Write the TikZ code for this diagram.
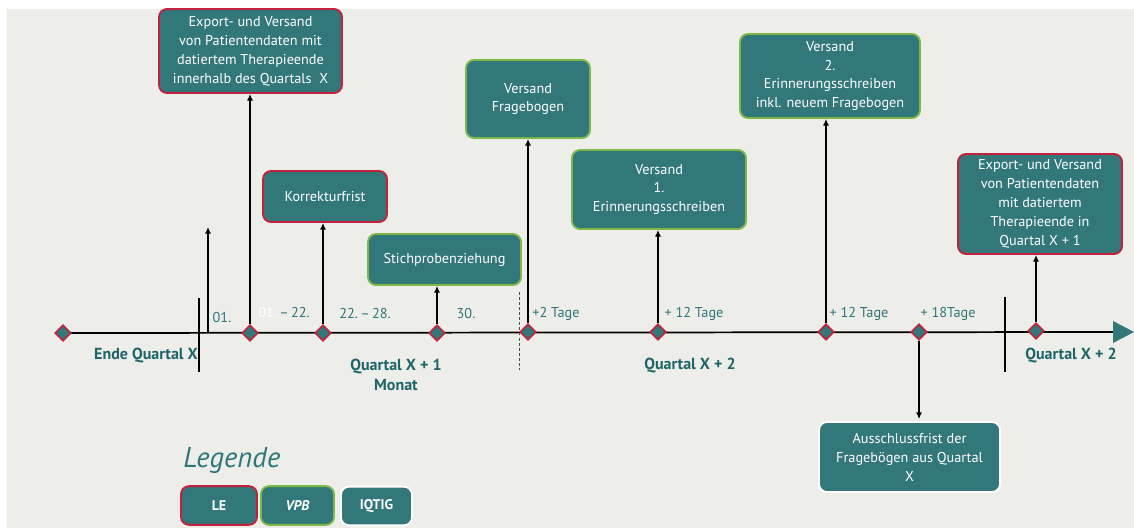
\documentclass[tikz,border=0pt]{standalone}
\usepackage{fontspec}
\setmainfont{PT Sans}
\usetikzlibrary{arrows.meta,shapes.geometric}
\definecolor{bgc}{HTML}{EDEDE9}
\definecolor{teal}{HTML}{32777A}
\definecolor{tealtext}{HTML}{2F7679}
\definecolor{tealdark}{HTML}{1E6568}
\definecolor{redb}{HTML}{C4213C}
\definecolor{greenb}{HTML}{7DB847}
\pgfdeclarelayer{lines}
\pgfsetlayers{lines,main}
\tikzset{
  box/.style={draw, line width=1.4pt, rounded corners=6pt, fill=teal, text=white,
    align=center, inner sep=0pt, font=\fontsize{10.7}{14.2}\selectfont},
  lebox/.style={box, draw=redb},
  vpbbox/.style={box, draw=greenb},
  iqbox/.style={box, draw=white},
  dia/.style={diamond, draw=redb, fill=teal, line width=1.2pt, inner sep=0pt, minimum size=12pt},
  arr/.style={-{Latex[length=5pt,width=4.6pt]}, line width=1pt, black},
  lbl/.style={text=tealtext, font=\fontsize{10.7}{12}\selectfont, inner sep=0pt},
  blbl/.style={text=tealdark, font=\fontsize{12}{15}\selectfont\bfseries, inner sep=0pt, align=center},
}
\begin{document}
\begin{tikzpicture}[x=0.75pt,y=-0.75pt]
\useasboundingbox (0,0) rectangle (1134,528);
\begin{pgfonlayer}{lines}
\fill[white] (0,0) rectangle (1134,528);
\fill[bgc] (7,9) rectangle (1134,528);
\end{pgfonlayer}

% diamonds on timeline
\node[dia] (d1) at (63,333) {};
\node[dia] (d2) at (250,333) {};
\node[dia] (d3) at (323,333) {};
\node[dia] (d4) at (437,333) {};
\node[dia] (d5) at (528,332) {};
\node[dia] (d6) at (658,332) {};
\node[dia] (d7) at (826,332) {};
\node[dia] (d8) at (919,332) {};
\node[dia] (d9) at (1036,331) {};
\coordinate (tipbase) at (1113,332);
\coordinate (c01) at (208,333);

\begin{pgfonlayer}{lines}
\draw[line width=1.3pt] (d1.center) -- (tipbase);
\end{pgfonlayer}
\fill[teal] (1113,321) -- (1134,332) -- (1113,343) -- cycle;

% separators
\draw[line width=1.3pt] (199,298) -- (199,372);
\draw[line width=1.3pt] (1005,297) -- (1005,372);
\draw[line width=0.7pt, dash pattern=on 2.2pt off 1.6pt, gray!60!black] (519,292) -- (519,370);

% boxes
\node[lebox, minimum width=137.25pt, minimum height=63pt] (b1) at (250.5,51) {Export- und Versand\\von Patientendaten mit\\datiertem Therapieende\\innerhalb des Quartals\ \ X};
\node[lebox, minimum width=93pt, minimum height=38.25pt] (b2) at (325,196.5) {Korrekturfrist};
\node[vpbbox, minimum width=114.75pt, minimum height=38.25pt] (b3) at (444.5,259.5) {Stichprobenziehung};
\node[vpbbox, minimum width=93pt, minimum height=58.5pt] (b4) at (528,99) {Versand\\Fragebogen};
\node[vpbbox, minimum width=130.5pt, minimum height=59.25pt] (b5) at (659,189.5) {Versand\\1.\\Erinnerungsschreiben};
\node[vpbbox, minimum width=135pt, minimum height=63pt] (b6) at (830,76) {Versand\\2.\\Erinnerungsschreiben\\inkl. neuem Fragebogen};
\node[lebox, minimum width=123pt, minimum height=75pt] (b7) at (1040,204) {Export- und Versand\\von Patientendaten\\mit datiertem\\Therapieende in\\Quartal X + 1};
\node[iqbox, minimum width=135.75pt, minimum height=52.5pt] (b8) at (909.5,457) {Ausschlussfrist der\\Fragebögen aus Quartal\\X};

% arrows
\draw[arr] (c01) -- ++(0,-106);
\draw[arr] (d2.north) -- (d2.north |- b1.south);
\draw[arr] (d3.north) -- (d3.north |- b2.south);
\draw[arr] (d4.north) -- (d4.north |- b3.south);
\draw[arr] (d5.north) -- (d5.north |- b4.south);
\draw[arr] (d6.north) -- (d6.north |- b5.south);
\draw[arr] (d7.north) -- (d7.north |- b6.south);
\draw[arr] (d9.north) -- (d9.north |- b7.south);
\draw[arr] (d8.south) -- ([yshift=1.5pt]d8.south |- b8.north);

% small labels
\node[lbl] (l1) at (222,318) {01.};
\node[lbl] (l2) at (284,313) {\textcolor{white}{01.}\,–\,22.};
\node[lbl] (l3) at (365,314) {22.\,–\,28.};
\node[lbl] (l4) at (466,314) {30.};
\node[lbl] (l5) at (556,314) {+2 Tage};
\node[lbl] (l6) at (694,314) {+ 12 Tage};
\node[lbl] (l7) at (859,314) {+ 12 Tage};
\node[lbl] (l8) at (948,314) {+ 18Tage};

% bold labels
\node[blbl] (q0) at (146,356) {Ende Quartal X};
\node[blbl] (q1) at (396,375) {Quartal X + 1\\Monat};
\node[blbl] (q2) at (690,366) {Quartal X + 2};
\node[blbl] (q3) at (1071,356) {Quartal X + 2};

% legend
\node[text=tealtext, font=\fontsize{21.5}{24}\selectfont\itshape, anchor=west, inner sep=0pt] (leg) at (183,460) {Legende};
\node[lebox, minimum width=57pt, minimum height=29pt, font=\fontsize{10.5}{12}\selectfont\bfseries] (kle) at (219,505.5) {LE};
\node[vpbbox, minimum width=54.75pt, minimum height=29pt, font=\fontsize{10.5}{12}\selectfont\bfseries\itshape] (kvpb) at (297.5,505.5) {VPB};
\node[iqbox, minimum width=53.25pt, minimum height=29pt, font=\fontsize{10.5}{12}\selectfont\bfseries] (kiq) at (376.5,506) {IQTIG};
\end{tikzpicture}
\end{document}
